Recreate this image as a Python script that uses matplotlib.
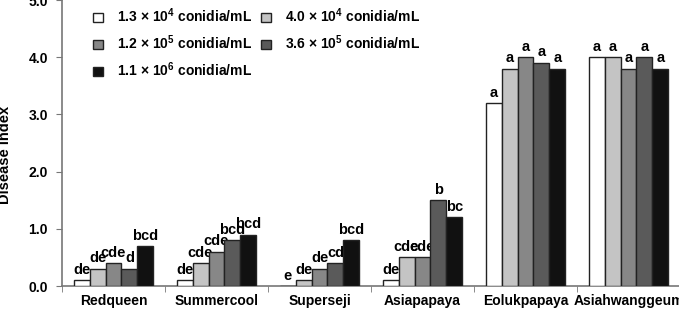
import matplotlib
matplotlib.use("Agg")
import matplotlib.pyplot as plt
import numpy as np
from matplotlib.patches import Patch

plt.rcParams['font.family'] = ['Liberation Sans', 'DejaVu Sans']
plt.rcParams['font.weight'] = 'bold'
plt.rcParams['mathtext.fontset'] = 'custom'
plt.rcParams['mathtext.rm'] = 'Liberation Sans:bold'
plt.rcParams['mathtext.bf'] = 'Liberation Sans:bold'
plt.rcParams['mathtext.it'] = 'Liberation Sans:bold'

categories = ["Redqueen", "Summercool", "Superseji", "Asiapapaya", "Eolukpapaya", "Asiahwanggeum"]
series_names = [r"1.3 × 10$^{4}$ conidia/mL", r"4.0 × 10$^{4}$ conidia/mL", r"1.2 × 10$^{5}$ conidia/mL",
                r"3.6 × 10$^{5}$ conidia/mL", r"1.1 × 10$^{6}$ conidia/mL"]
values = [
    [0.1, 0.1, 0.0, 0.1, 3.2, 4.0],
    [0.3, 0.4, 0.1, 0.5, 3.8, 4.0],
    [0.4, 0.6, 0.3, 0.5, 4.0, 3.8],
    [0.3, 0.8, 0.4, 1.5, 3.9, 4.0],
    [0.7, 0.9, 0.8, 1.2, 3.8, 3.8],
]
letters = [
    ["de", "de", "e", "de", "a", "a"],
    ["de", "cde", "de", "cde", "a", "a"],
    ["cde", "cde", "de", "cde", "a", "a"],
    ["d", "bcd", "cd", "b", "a", "a"],
    ["bcd", "bcd", "bcd", "bc", "a", "a"],
]
yticks = [0.0, 1.0, 2.0, 3.0, 4.0, 5.0]

colors = ["#ffffff", "#c4c4c4", "#878787", "#5a5a5a", "#111111"]

fig = plt.figure(figsize=(6.79, 3.10), dpi=100)
ax = fig.add_axes([62/679, 24/310, 618/679, 286/310])

n = len(categories)
x = np.arange(n)
bw = 0.155
for i in range(5):
    pos = x + (i - 2) * bw
    ax.bar(pos, values[i], width=bw, color=colors[i], edgecolor="#222222", linewidth=1.0, zorder=3)
    for px, v, t in zip(pos, values[i], letters[i]):
        ax.text(px, v + 0.06, t, ha="center", va="bottom", fontsize=10.5, fontweight="bold")

ax.set_xlim(-0.5, n - 0.5)
ax.set_ylim(0, 5.0)
ax.set_yticks(yticks)
ax.set_yticklabels([f"{t:.1f}" for t in yticks], fontsize=10, fontweight="bold")
ax.set_xticks(x)
ax.set_xticklabels(categories, fontsize=10, fontweight="bold")
ax.tick_params(axis="x", which="major", length=0, pad=6)
ax.set_xticks(np.arange(n + 1) - 0.5, minor=True)
ax.tick_params(axis="x", which="minor", length=4, direction="out", color="#777777")
ax.tick_params(axis="y", length=4, direction="out", color="#777777", pad=6)
ax.set_ylabel("Disease index", fontsize=10.5, fontweight="bold")
ax.yaxis.set_label_coords(-0.081, 0.46)

for s in ["top", "right"]:
    ax.spines[s].set_visible(False)
for s in ["left", "bottom"]:
    ax.spines[s].set_color("#777777")
    ax.spines[s].set_linewidth(1.2)

handles = [Patch(facecolor=colors[i], edgecolor="#222222", linewidth=1.0, label=series_names[i]) for i in range(5)]
order = [0, 2, 4, 1, 3]
leg = ax.legend([handles[i] for i in order], [series_names[i] for i in order],
                ncol=2, loc="upper left", bbox_to_anchor=(0.03, 1.02), frameon=False,
                handlelength=0.7, handleheight=0.7, handletextpad=1.0, columnspacing=0.7,
                labelspacing=0.6, prop={"weight": "bold", "size": 10})

fig.savefig("out.png", dpi=100)
